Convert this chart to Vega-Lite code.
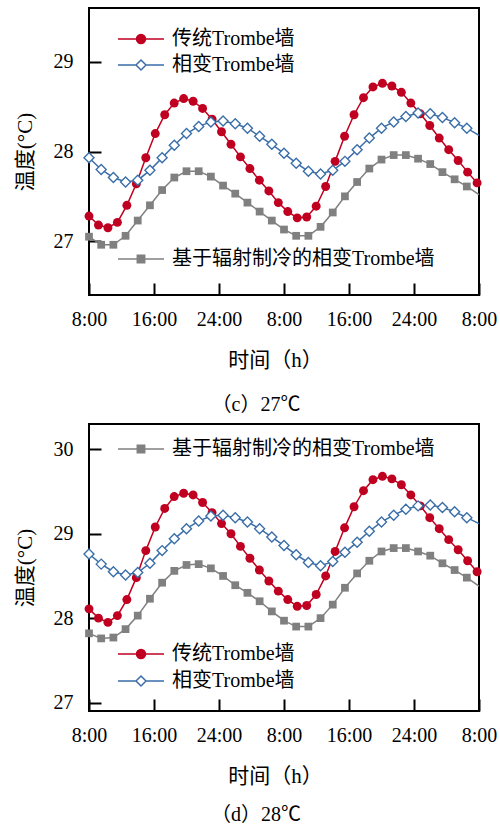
{
"$schema": "https://vega.github.io/schema/vega-lite/v6.json",
"padding": {"left": 13, "top": 7, "right": 0, "bottom": 2},
"spacing": 7,
"datasets": {
"c": [
{"s":"传统Trombe墙","t":0,"v":27.28},{"s":"传统Trombe墙","t":1.165,"v":27.18},{"s":"传统Trombe墙","t":2.33,"v":27.15},{"s":"传统Trombe墙","t":3.495,"v":27.21},{"s":"传统Trombe墙","t":4.66,"v":27.40},{"s":"传统Trombe墙","t":5.825,"v":27.64},{"s":"传统Trombe墙","t":6.99,"v":27.93},{"s":"传统Trombe墙","t":8.155,"v":28.20},{"s":"传统Trombe墙","t":9.32,"v":28.41},{"s":"传统Trombe墙","t":10.485,"v":28.54},{"s":"传统Trombe墙","t":11.65,"v":28.59},{"s":"传统Trombe墙","t":12.815,"v":28.56},{"s":"传统Trombe墙","t":13.98,"v":28.48},{"s":"传统Trombe墙","t":15.145,"v":28.36},{"s":"传统Trombe墙","t":16.31,"v":28.22},{"s":"传统Trombe墙","t":17.475,"v":28.08},{"s":"传统Trombe墙","t":18.64,"v":27.94},{"s":"传统Trombe墙","t":19.805,"v":27.81},{"s":"传统Trombe墙","t":20.97,"v":27.68},{"s":"传统Trombe墙","t":22.135,"v":27.56},{"s":"传统Trombe墙","t":23.3,"v":27.43},{"s":"传统Trombe墙","t":24.465,"v":27.33},{"s":"传统Trombe墙","t":25.63,"v":27.26},{"s":"传统Trombe墙","t":26.795,"v":27.27},{"s":"传统Trombe墙","t":27.96,"v":27.39},{"s":"传统Trombe墙","t":29.125,"v":27.61},{"s":"传统Trombe墙","t":30.29,"v":27.89},{"s":"传统Trombe墙","t":31.455,"v":28.17},{"s":"传统Trombe墙","t":32.62,"v":28.41},{"s":"传统Trombe墙","t":33.785,"v":28.60},{"s":"传统Trombe墙","t":34.95,"v":28.72},{"s":"传统Trombe墙","t":36.115,"v":28.76},{"s":"传统Trombe墙","t":37.28,"v":28.73},{"s":"传统Trombe墙","t":38.445,"v":28.66},{"s":"传统Trombe墙","t":39.61,"v":28.54},{"s":"传统Trombe墙","t":40.775,"v":28.42},{"s":"传统Trombe墙","t":41.94,"v":28.29},{"s":"传统Trombe墙","t":43.105,"v":28.15},{"s":"传统Trombe墙","t":44.27,"v":28.02},{"s":"传统Trombe墙","t":45.435,"v":27.90},{"s":"传统Trombe墙","t":46.6,"v":27.77},{"s":"传统Trombe墙","t":47.765,"v":27.65},
{"s":"相变Trombe墙","t":0,"v":27.93},{"s":"相变Trombe墙","t":1.5,"v":27.80},{"s":"相变Trombe墙","t":3,"v":27.71},{"s":"相变Trombe墙","t":4.5,"v":27.66},{"s":"相变Trombe墙","t":6,"v":27.68},{"s":"相变Trombe墙","t":7.5,"v":27.79},{"s":"相变Trombe墙","t":9,"v":27.93},{"s":"相变Trombe墙","t":10.5,"v":28.07},{"s":"相变Trombe墙","t":12,"v":28.20},{"s":"相变Trombe墙","t":13.5,"v":28.28},{"s":"相变Trombe墙","t":15,"v":28.33},{"s":"相变Trombe墙","t":16.5,"v":28.34},{"s":"相变Trombe墙","t":18,"v":28.31},{"s":"相变Trombe墙","t":19.5,"v":28.26},{"s":"相变Trombe墙","t":21,"v":28.17},{"s":"相变Trombe墙","t":22.5,"v":28.08},{"s":"相变Trombe墙","t":24,"v":27.98},{"s":"相变Trombe墙","t":25.5,"v":27.87},{"s":"相变Trombe墙","t":27,"v":27.78},{"s":"相变Trombe墙","t":28.5,"v":27.75},{"s":"相变Trombe墙","t":30,"v":27.79},{"s":"相变Trombe墙","t":31.5,"v":27.89},{"s":"相变Trombe墙","t":33,"v":28.02},{"s":"相变Trombe墙","t":34.5,"v":28.15},{"s":"相变Trombe墙","t":36,"v":28.26},{"s":"相变Trombe墙","t":37.5,"v":28.33},{"s":"相变Trombe墙","t":39,"v":28.39},{"s":"相变Trombe墙","t":40.5,"v":28.43},{"s":"相变Trombe墙","t":42,"v":28.42},{"s":"相变Trombe墙","t":43.5,"v":28.38},{"s":"相变Trombe墙","t":45,"v":28.32},{"s":"相变Trombe墙","t":46.5,"v":28.26},{"s":"相变Trombe墙","t":48,"v":28.18},
{"s":"基于辐射制冷的相变Trombe墙","t":0,"v":27.05},{"s":"基于辐射制冷的相变Trombe墙","t":1.5,"v":26.96},{"s":"基于辐射制冷的相变Trombe墙","t":3,"v":26.96},{"s":"基于辐射制冷的相变Trombe墙","t":4.5,"v":27.06},{"s":"基于辐射制冷的相变Trombe墙","t":6,"v":27.23},{"s":"基于辐射制冷的相变Trombe墙","t":7.5,"v":27.40},{"s":"基于辐射制冷的相变Trombe墙","t":9,"v":27.57},{"s":"基于辐射制冷的相变Trombe墙","t":10.5,"v":27.71},{"s":"基于辐射制冷的相变Trombe墙","t":12,"v":27.78},{"s":"基于辐射制冷的相变Trombe墙","t":13.5,"v":27.78},{"s":"基于辐射制冷的相变Trombe墙","t":15,"v":27.72},{"s":"基于辐射制冷的相变Trombe墙","t":16.5,"v":27.62},{"s":"基于辐射制冷的相变Trombe墙","t":18,"v":27.53},{"s":"基于辐射制冷的相变Trombe墙","t":19.5,"v":27.43},{"s":"基于辐射制冷的相变Trombe墙","t":21,"v":27.33},{"s":"基于辐射制冷的相变Trombe墙","t":22.5,"v":27.23},{"s":"基于辐射制冷的相变Trombe墙","t":24,"v":27.13},{"s":"基于辐射制冷的相变Trombe墙","t":25.5,"v":27.06},{"s":"基于辐射制冷的相变Trombe墙","t":27,"v":27.06},{"s":"基于辐射制冷的相变Trombe墙","t":28.5,"v":27.16},{"s":"基于辐射制冷的相变Trombe墙","t":30,"v":27.32},{"s":"基于辐射制冷的相变Trombe墙","t":31.5,"v":27.50},{"s":"基于辐射制冷的相变Trombe墙","t":33,"v":27.66},{"s":"基于辐射制冷的相变Trombe墙","t":34.5,"v":27.81},{"s":"基于辐射制冷的相变Trombe墙","t":36,"v":27.91},{"s":"基于辐射制冷的相变Trombe墙","t":37.5,"v":27.96},{"s":"基于辐射制冷的相变Trombe墙","t":39,"v":27.96},{"s":"基于辐射制冷的相变Trombe墙","t":40.5,"v":27.92},{"s":"基于辐射制冷的相变Trombe墙","t":42,"v":27.86},{"s":"基于辐射制冷的相变Trombe墙","t":43.5,"v":27.77},{"s":"基于辐射制冷的相变Trombe墙","t":45,"v":27.69},{"s":"基于辐射制冷的相变Trombe墙","t":46.5,"v":27.61},{"s":"基于辐射制冷的相变Trombe墙","t":48,"v":27.52}
],
"d": [
{"s":"传统Trombe墙","t":0,"v":28.11},{"s":"传统Trombe墙","t":1.165,"v":28.00},{"s":"传统Trombe墙","t":2.33,"v":27.95},{"s":"传统Trombe墙","t":3.495,"v":28.03},{"s":"传统Trombe墙","t":4.66,"v":28.22},{"s":"传统Trombe墙","t":5.825,"v":28.48},{"s":"传统Trombe墙","t":6.99,"v":28.80},{"s":"传统Trombe墙","t":8.155,"v":29.08},{"s":"传统Trombe墙","t":9.32,"v":29.30},{"s":"传统Trombe墙","t":10.485,"v":29.44},{"s":"传统Trombe墙","t":11.65,"v":29.48},{"s":"传统Trombe墙","t":12.815,"v":29.46},{"s":"传统Trombe墙","t":13.98,"v":29.37},{"s":"传统Trombe墙","t":15.145,"v":29.25},{"s":"传统Trombe墙","t":16.31,"v":29.12},{"s":"传统Trombe墙","t":17.475,"v":29.00},{"s":"传统Trombe墙","t":18.64,"v":28.85},{"s":"传统Trombe墙","t":19.805,"v":28.71},{"s":"传统Trombe墙","t":20.97,"v":28.57},{"s":"传统Trombe墙","t":22.135,"v":28.44},{"s":"传统Trombe墙","t":23.3,"v":28.32},{"s":"传统Trombe墙","t":24.465,"v":28.22},{"s":"传统Trombe墙","t":25.63,"v":28.14},{"s":"传统Trombe墙","t":26.795,"v":28.15},{"s":"传统Trombe墙","t":27.96,"v":28.28},{"s":"传统Trombe墙","t":29.125,"v":28.50},{"s":"传统Trombe墙","t":30.29,"v":28.79},{"s":"传统Trombe墙","t":31.455,"v":29.07},{"s":"传统Trombe墙","t":32.62,"v":29.32},{"s":"传统Trombe墙","t":33.785,"v":29.51},{"s":"传统Trombe墙","t":34.95,"v":29.64},{"s":"传统Trombe墙","t":36.115,"v":29.68},{"s":"传统Trombe墙","t":37.28,"v":29.65},{"s":"传统Trombe墙","t":38.445,"v":29.58},{"s":"传统Trombe墙","t":39.61,"v":29.46},{"s":"传统Trombe墙","t":40.775,"v":29.33},{"s":"传统Trombe墙","t":41.94,"v":29.19},{"s":"传统Trombe墙","t":43.105,"v":29.06},{"s":"传统Trombe墙","t":44.27,"v":28.93},{"s":"传统Trombe墙","t":45.435,"v":28.81},{"s":"传统Trombe墙","t":46.6,"v":28.68},{"s":"传统Trombe墙","t":47.765,"v":28.55},
{"s":"相变Trombe墙","t":0,"v":28.76},{"s":"相变Trombe墙","t":1.5,"v":28.64},{"s":"相变Trombe墙","t":3,"v":28.55},{"s":"相变Trombe墙","t":4.5,"v":28.51},{"s":"相变Trombe墙","t":6,"v":28.54},{"s":"相变Trombe墙","t":7.5,"v":28.65},{"s":"相变Trombe墙","t":9,"v":28.80},{"s":"相变Trombe墙","t":10.5,"v":28.94},{"s":"相变Trombe墙","t":12,"v":29.06},{"s":"相变Trombe墙","t":13.5,"v":29.15},{"s":"相变Trombe墙","t":15,"v":29.21},{"s":"相变Trombe墙","t":16.5,"v":29.22},{"s":"相变Trombe墙","t":18,"v":29.19},{"s":"相变Trombe墙","t":19.5,"v":29.14},{"s":"相变Trombe墙","t":21,"v":29.06},{"s":"相变Trombe墙","t":22.5,"v":28.96},{"s":"相变Trombe墙","t":24,"v":28.86},{"s":"相变Trombe墙","t":25.5,"v":28.75},{"s":"相变Trombe墙","t":27,"v":28.66},{"s":"相变Trombe墙","t":28.5,"v":28.62},{"s":"相变Trombe墙","t":30,"v":28.67},{"s":"相变Trombe墙","t":31.5,"v":28.78},{"s":"相变Trombe墙","t":33,"v":28.90},{"s":"相变Trombe墙","t":34.5,"v":29.03},{"s":"相变Trombe墙","t":36,"v":29.14},{"s":"相变Trombe墙","t":37.5,"v":29.22},{"s":"相变Trombe墙","t":39,"v":29.29},{"s":"相变Trombe墙","t":40.5,"v":29.33},{"s":"相变Trombe墙","t":42,"v":29.34},{"s":"相变Trombe墙","t":43.5,"v":29.31},{"s":"相变Trombe墙","t":45,"v":29.26},{"s":"相变Trombe墙","t":46.5,"v":29.19},{"s":"相变Trombe墙","t":48,"v":29.12},
{"s":"基于辐射制冷的相变Trombe墙","t":0,"v":27.82},{"s":"基于辐射制冷的相变Trombe墙","t":1.5,"v":27.76},{"s":"基于辐射制冷的相变Trombe墙","t":3,"v":27.77},{"s":"基于辐射制冷的相变Trombe墙","t":4.5,"v":27.87},{"s":"基于辐射制冷的相变Trombe墙","t":6,"v":28.03},{"s":"基于辐射制冷的相变Trombe墙","t":7.5,"v":28.23},{"s":"基于辐射制冷的相变Trombe墙","t":9,"v":28.42},{"s":"基于辐射制冷的相变Trombe墙","t":10.5,"v":28.56},{"s":"基于辐射制冷的相变Trombe墙","t":12,"v":28.63},{"s":"基于辐射制冷的相变Trombe墙","t":13.5,"v":28.64},{"s":"基于辐射制冷的相变Trombe墙","t":15,"v":28.59},{"s":"基于辐射制冷的相变Trombe墙","t":16.5,"v":28.50},{"s":"基于辐射制冷的相变Trombe墙","t":18,"v":28.39},{"s":"基于辐射制冷的相变Trombe墙","t":19.5,"v":28.30},{"s":"基于辐射制冷的相变Trombe墙","t":21,"v":28.20},{"s":"基于辐射制冷的相变Trombe墙","t":22.5,"v":28.08},{"s":"基于辐射制冷的相变Trombe墙","t":24,"v":27.97},{"s":"基于辐射制冷的相变Trombe墙","t":25.5,"v":27.90},{"s":"基于辐射制冷的相变Trombe墙","t":27,"v":27.90},{"s":"基于辐射制冷的相变Trombe墙","t":28.5,"v":28.00},{"s":"基于辐射制冷的相变Trombe墙","t":30,"v":28.16},{"s":"基于辐射制冷的相变Trombe墙","t":31.5,"v":28.36},{"s":"基于辐射制冷的相变Trombe墙","t":33,"v":28.53},{"s":"基于辐射制冷的相变Trombe墙","t":34.5,"v":28.68},{"s":"基于辐射制冷的相变Trombe墙","t":36,"v":28.79},{"s":"基于辐射制冷的相变Trombe墙","t":37.5,"v":28.83},{"s":"基于辐射制冷的相变Trombe墙","t":39,"v":28.83},{"s":"基于辐射制冷的相变Trombe墙","t":40.5,"v":28.79},{"s":"基于辐射制冷的相变Trombe墙","t":42,"v":28.74},{"s":"基于辐射制冷的相变Trombe墙","t":43.5,"v":28.65},{"s":"基于辐射制冷的相变Trombe墙","t":45,"v":28.57},{"s":"基于辐射制冷的相变Trombe墙","t":46.5,"v":28.48},{"s":"基于辐射制冷的相变Trombe墙","t":48,"v":28.38}
]
},
"vconcat": [
{
"data": {"name": "c"},
"width": 390, "height": 287,
"title": {"text": "（c）27℃", "orient": "bottom", "offset": 25, "dx": -28},
"encoding": {
 "x": {"field": "t", "type": "quantitative", "scale": {"domain": [0, 48], "nice": false}, "axis": {"values": [0, 8, 16, 24, 32, 40, 48], "labelExpr": "['8:00','16:00','24:00','8:00','16:00','24:00','8:00'][round(datum.value/8)]", "title": "时间（h）", "titleX": 186, "labelPadding": 26, "titlePadding": 20}},
 "y": {"field": "v", "type": "quantitative", "scale": {"domain": [26.4, 29.6], "nice": false, "zero": false}, "axis": {"values": [27, 28, 29], "title": "温度(°C)", "labelPadding": 28, "titlePadding": 18}}
},
"layer": [
 {
  "transform": [{"filter": "datum.s !== '基于辐射制冷的相变Trombe墙'"}],
  "layer": [
   {"mark": {"type": "line", "strokeWidth": 1.5},
    "encoding": {"color": {"field": "s", "type": "nominal", "scale": {"domain": ["传统Trombe墙", "相变Trombe墙"], "range": ["#C00020", "#3A6EA8"]},
     "legend": {"orient": "none", "legendX": 41, "legendY": 20, "title": null, "padding": 0, "symbolSize": 400, "labelOffset": 20, "rowPadding": 5, "labelLimit": 400,
      "encode": {"symbols": {"update": {
        "shape": {"signal": "datum.value === '传统Trombe墙' ? 'M-2.3,0H-0.45M0.45,0H2.3M-0.45,0A0.45,0.45,0,1,1,0.45,0A0.45,0.45,0,1,1,-0.45,0Z' : 'M-2.3,0H-0.5M0.5,0H2.3M-0.5,0L0,-0.5L0.5,0L0,0.5Z'"},
        "fill": {"signal": "datum.value === '传统Trombe墙' ? '#C00020' : '#ffffff'"},
        "stroke": {"signal": "datum.value === '传统Trombe墙' ? '#C00020' : '#3A6EA8'"},
        "strokeWidth": {"value": 1.5}, "opacity": {"value": 1}}}}}}}},
   {"transform": [{"filter": "datum.s === '传统Trombe墙'"}],
    "mark": {"type": "point", "shape": "circle", "filled": true, "color": "#C00020", "size": 80, "opacity": 1}},
   {"transform": [{"filter": "datum.s === '相变Trombe墙' && datum.t < 48"}],
    "mark": {"type": "point", "shape": "diamond", "filled": false, "fill": "#ffffff", "stroke": "#3A6EA8", "strokeWidth": 1.4, "size": 100, "opacity": 1}}
  ]
 },
 {
  "transform": [{"filter": "datum.s === '基于辐射制冷的相变Trombe墙'"}],
  "layer": [
   {"mark": {"type": "line", "strokeWidth": 1.5},
    "encoding": {"color": {"field": "s", "type": "nominal", "scale": {"domain": ["基于辐射制冷的相变Trombe墙"], "range": ["#808080"]},
     "legend": {"orient": "none", "legendX": 41, "legendY": 240, "title": null, "padding": 0, "symbolSize": 400, "labelOffset": 20, "labelLimit": 400,
      "encode": {"symbols": {"update": {
        "shape": {"value": "M-2.3,0H-0.37M0.37,0H2.3M-0.37,-0.37H0.37V0.37H-0.37Z"},
        "fill": {"value": "#808080"}, "stroke": {"value": "#808080"}, "strokeWidth": {"value": 1.5}, "opacity": {"value": 1}}}}}}}},
   {"transform": [{"filter": "datum.t < 48"}],
    "mark": {"type": "point", "shape": "square", "filled": true, "color": "#808080", "size": 60, "opacity": 1}}
  ]
 }
],
"resolve": {"scale": {"color": "independent"}}
},
{
"data": {"name": "d"},
"width": 390, "height": 287,
"title": {"text": "（d）28℃", "orient": "bottom", "offset": 19, "dx": -28},
"encoding": {
 "x": {"field": "t", "type": "quantitative", "scale": {"domain": [0, 48], "nice": false}, "axis": {"values": [0, 8, 16, 24, 32, 40, 48], "labelExpr": "['8:00','16:00','24:00','8:00','16:00','24:00','8:00'][round(datum.value/8)]", "title": "时间（h）", "titleX": 186, "labelPadding": 26, "titlePadding": 20}},
 "y": {"field": "v", "type": "quantitative", "scale": {"domain": [26.9, 30.3], "nice": false, "zero": false}, "axis": {"values": [27, 28, 29, 30], "title": "温度(°C)", "labelPadding": 28, "titlePadding": 18}}
},
"layer": [
 {
  "transform": [{"filter": "datum.s !== '基于辐射制冷的相变Trombe墙'"}],
  "layer": [
   {"mark": {"type": "line", "strokeWidth": 1.5},
    "encoding": {"color": {"field": "s", "type": "nominal", "scale": {"domain": ["传统Trombe墙", "相变Trombe墙"], "range": ["#C00020", "#3A6EA8"]},
     "legend": {"orient": "none", "legendX": 41, "legendY": 219, "title": null, "padding": 0, "symbolSize": 400, "labelOffset": 20, "rowPadding": 6, "labelLimit": 400,
      "encode": {"symbols": {"update": {
        "shape": {"signal": "datum.value === '传统Trombe墙' ? 'M-2.3,0H-0.45M0.45,0H2.3M-0.45,0A0.45,0.45,0,1,1,0.45,0A0.45,0.45,0,1,1,-0.45,0Z' : 'M-2.3,0H-0.5M0.5,0H2.3M-0.5,0L0,-0.5L0.5,0L0,0.5Z'"},
        "fill": {"signal": "datum.value === '传统Trombe墙' ? '#C00020' : '#ffffff'"},
        "stroke": {"signal": "datum.value === '传统Trombe墙' ? '#C00020' : '#3A6EA8'"},
        "strokeWidth": {"value": 1.5}, "opacity": {"value": 1}}}}}}}},
   {"transform": [{"filter": "datum.s === '传统Trombe墙'"}],
    "mark": {"type": "point", "shape": "circle", "filled": true, "color": "#C00020", "size": 80, "opacity": 1}},
   {"transform": [{"filter": "datum.s === '相变Trombe墙' && datum.t < 48"}],
    "mark": {"type": "point", "shape": "diamond", "filled": false, "fill": "#ffffff", "stroke": "#3A6EA8", "strokeWidth": 1.4, "size": 100, "opacity": 1}}
  ]
 },
 {
  "transform": [{"filter": "datum.s === '基于辐射制冷的相变Trombe墙'"}],
  "layer": [
   {"mark": {"type": "line", "strokeWidth": 1.5},
    "encoding": {"color": {"field": "s", "type": "nominal", "scale": {"domain": ["基于辐射制冷的相变Trombe墙"], "range": ["#808080"]},
     "legend": {"orient": "none", "legendX": 41, "legendY": 14, "title": null, "padding": 0, "symbolSize": 400, "labelOffset": 20, "labelLimit": 400,
      "encode": {"symbols": {"update": {
        "shape": {"value": "M-2.3,0H-0.37M0.37,0H2.3M-0.37,-0.37H0.37V0.37H-0.37Z"},
        "fill": {"value": "#808080"}, "stroke": {"value": "#808080"}, "strokeWidth": {"value": 1.5}, "opacity": {"value": 1}}}}}}}},
   {"transform": [{"filter": "datum.t < 48"}],
    "mark": {"type": "point", "shape": "square", "filled": true, "color": "#808080", "size": 60, "opacity": 1}}
  ]
 }
],
"resolve": {"scale": {"color": "independent"}}
}
],
"config": {
 "font": "Liberation Serif, Noto Sans CJK SC",
 "view": {"stroke": "black", "strokeWidth": 2},
 "axis": {"labelFont": "Liberation Serif, Noto Sans CJK SC", "labelFontSize": 20, "labelColor": "black", "labelFlush": false, "labelOverlap": false, "titleFont": "Liberation Serif, Noto Sans CJK SC", "titleFontSize": 21, "titleFontWeight": "normal", "titleColor": "black", "tickColor": "black", "tickWidth": 2, "tickSize": -12, "domain": false, "grid": false},
 "legend": {"labelFont": "Liberation Serif, Noto Sans CJK SC", "labelFontSize": 20, "labelColor": "black"},
 "title": {"font": "Liberation Serif, Noto Sans CJK SC", "fontSize": 20, "fontWeight": "normal", "color": "black"}
}
}
